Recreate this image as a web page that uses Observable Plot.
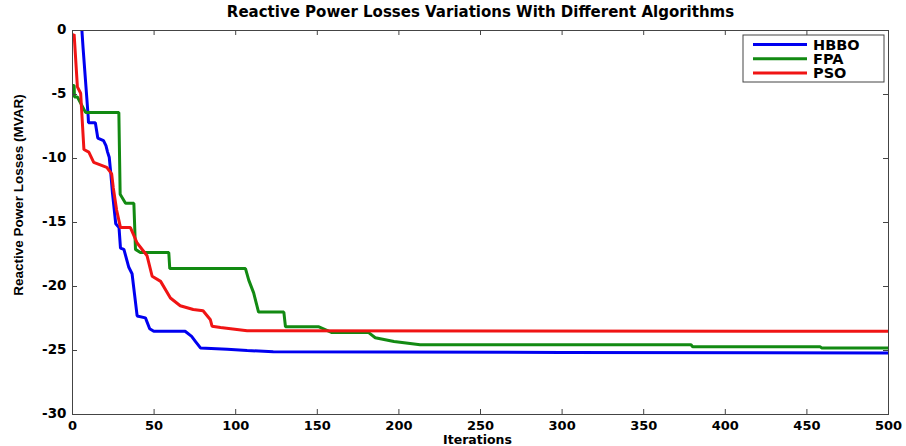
<!DOCTYPE html>
<html><head><meta charset="utf-8">
<script src="https://cdn.jsdelivr.net/npm/d3@7"></script>
<script src="https://cdn.jsdelivr.net/npm/@observablehq/plot@0.6"></script>
<style>
body{margin:0;background:#fff;}
svg{display:block;}
</style>
</head><body><div id="chart"></div>
<script>
const titleText = "Reactive Power Losses Variations With Different Algorithms";
const xLabel = "Iterations";
const yLabel = "Reactive Power Losses (MVAR)";
const seriesNames = ["HBBO", "FPA", "PSO"];
const seriesColors = ["#0000f0", "#128a12", "#f01414"];
const xTicks = [0, 50, 100, 150, 200, 250, 300, 350, 400, 450, 500];
const yTicks = [0, -5, -10, -15, -20, -25, -30];

const hbboIter = [5.5, 6.5, 9.6, 9.8, 14, 15.5, 19, 20.5, 21.5, 22.5, 23.5, 24.5, 26.5, 28.5, 29.4, 31.5, 34.5, 36.5, 38, 39.6, 44.7, 47.3, 49.8, 69, 73, 75.4, 78.4, 94.8, 107, 123, 300, 500];
const hbboLoss = [0.5, -1.4, -6.7, -7.2, -7.2, -8.4, -8.6, -9.0, -9.5, -9.9, -11.2, -12.7, -15.1, -15.4, -17.0, -17.1, -18.5, -19.0, -20.6, -22.3, -22.45, -23.3, -23.5, -23.5, -23.9, -24.3, -24.8, -24.9, -25.0, -25.1, -25.15, -25.2];

const fpaIter = [0, 1, 1.2, 3, 8, 28.4, 29.2, 32.5, 37.6, 38.6, 41.6, 59, 59.6, 106, 108, 111, 114, 129.5, 130.5, 151, 159, 181.5, 185.5, 197, 213, 379, 380, 458, 459, 500];
const fpaLoss = [-4.3, -4.3, -5.2, -5.2, -6.4, -6.4, -12.8, -13.5, -13.5, -17.1, -17.35, -17.35, -18.6, -18.6, -19.5, -20.5, -22.0, -22.0, -23.15, -23.15, -23.6, -23.6, -24.0, -24.3, -24.55, -24.55, -24.7, -24.7, -24.8, -24.8];

const psoIter = [0, 1, 3, 5, 7, 10, 13, 21, 24, 25, 27, 29.4, 35.5, 39.6, 45.7, 48.8, 54, 60, 66, 74, 80, 84.5, 85.5, 90.7, 107, 500];
const psoLoss = [-0.4, -0.3, -4.4, -4.9, -9.3, -9.5, -10.3, -10.7, -11.2, -12.3, -14.0, -15.4, -15.4, -16.6, -17.6, -19.2, -19.6, -20.9, -21.5, -21.8, -21.9, -22.6, -23.1, -23.2, -23.45, -23.5];

const iters = [hbboIter, fpaIter, psoIter];
const losses = [hbboLoss, fpaLoss, psoLoss];
const rows = [];
seriesNames.forEach((s, i) => iters[i].forEach((it, j) => rows.push({series: s, iter: it, loss: losses[i][j]})));

const W = 906, H = 446, mL = 72, mR = 18, mT = 30, mB = 32;
const pw = W - mL - mR, ph = H - mT - mB;
const tickLen = 5;
const axisCol = "#444";
const wideFont = '"DejaVu Sans", Verdana, sans-serif';
const txt = {fill: "#000", fontWeight: "bold", stroke: null, fontFamily: wideFont};

const plot = Plot.plot({
  width: W, height: H,
  marginLeft: mL, marginRight: mR, marginTop: mT, marginBottom: mB,
  style: {fontFamily: wideFont, background: "#fff"},
  x: {domain: [0, 500], axis: null},
  y: {domain: [-30, 0], axis: null},
  color: {domain: seriesNames, range: seriesColors},
  marks: [
    Plot.line(rows, {x: "iter", y: "loss", z: "series", stroke: "series", strokeWidth: 3, clip: true, strokeLinejoin: "miter"}),
    Plot.frame({stroke: axisCol, strokeWidth: 1}),
    Plot.tickX(xTicks, {x: d => d, stroke: axisCol, insetTop: ph - tickLen}),
    Plot.tickX(xTicks, {x: d => d, stroke: axisCol, insetBottom: ph - tickLen}),
    Plot.tickY(yTicks, {y: d => d, stroke: axisCol, insetRight: pw - tickLen}),
    Plot.tickY(yTicks, {y: d => d, stroke: axisCol, insetLeft: pw - tickLen}),
    Plot.text(xTicks, {x: d => d, text: d => String(d), frameAnchor: "bottom", dy: 11, fontSize: 13, lineAnchor: "middle", ...txt}),
    Plot.text(yTicks, {y: d => d, text: d => String(d), frameAnchor: "left", dx: -6, dy: -1, textAnchor: "end", fontSize: 13.5, lineAnchor: "middle", ...txt}),
    Plot.text([titleText], {text: d => d, frameAnchor: "top", dy: -18, fontSize: 15, lineAnchor: "middle", ...txt}),
    Plot.text([xLabel], {text: d => d, frameAnchor: "bottom", dx: -3, dy: 25.5, fontSize: 12.5, lineAnchor: "middle", ...txt})
  ]
});

const svg = d3.select(plot);
// y-axis label
svg.append("text")
  .attr("transform", "translate(18,195) rotate(-90)")
  .attr("text-anchor", "middle").attr("dy", "0.35em")
  .attr("font-family", '"Liberation Sans", Arial, sans-serif')
  .attr("font-size", 13.5).attr("font-weight", "bold").attr("fill", "#000")
  .text(yLabel);

// legend
const lg = svg.append("g");
const lx0 = 743, ly0 = 35, lw = 141, lh = 47;
lg.append("rect").attr("x", lx0).attr("y", ly0).attr("width", lw).attr("height", lh)
  .attr("fill", "#fff").attr("stroke", axisCol).attr("stroke-width", 1);
seriesNames.forEach((s, i) => {
  const yy = ly0 + 9.5 + i * 14.2;
  lg.append("line").attr("x1", lx0 + 10).attr("x2", lx0 + 64).attr("y1", yy).attr("y2", yy)
    .attr("stroke", seriesColors[i]).attr("stroke-width", 3);
  lg.append("text").attr("x", lx0 + 70).attr("y", yy).attr("dy", "0.36em")
    .attr("text-anchor", "start")
    .attr("font-family", wideFont)
    .attr("font-size", 14.5).attr("font-weight", "bold").attr("fill", "#000").text(s);
});

document.getElementById("chart").appendChild(plot);
</script>
</body></html>
